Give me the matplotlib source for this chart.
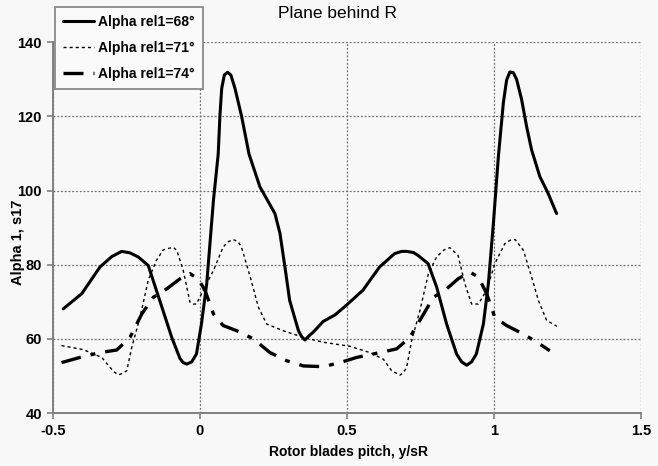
import matplotlib
matplotlib.use("Agg")
import matplotlib.pyplot as plt

# values
x68 = [-0.465, -0.402, -0.340, -0.300, -0.266, -0.238, -0.210, -0.176, -0.137, -0.096,
       -0.068, -0.057, -0.045, -0.028, -0.012, 0.005, 0.023, 0.046, 0.062, 0.068,
       0.074, 0.083, 0.094, 0.105, 0.119, 0.142, 0.167, 0.204, 0.255, 0.272, 0.289,
       0.305, 0.335, 0.346, 0.357, 0.368, 0.385, 0.397, 0.419, 0.460, 0.497, 0.554,
       0.611, 0.662, 0.686, 0.703, 0.726, 0.742, 0.776, 0.805, 0.839, 0.873, 0.890,
       0.907, 0.924, 0.940, 0.964, 0.981, 0.998, 1.015, 1.032, 1.043, 1.054, 1.066,
       1.077, 1.094, 1.111, 1.128, 1.156, 1.184, 1.213]
y68 = [68.1, 72.2, 79.4, 82.2, 83.6, 83.2, 82.1, 79.8, 70.4, 60.4,
       54.7, 53.6, 53.2, 53.8, 55.9, 64.0, 74.9, 97.5, 109.8, 120.4,
       127.6, 131.2, 131.9, 131.2, 127.6, 119.9, 109.8, 101.0, 93.8, 88.5, 79.4,
       70.4, 62.2, 60.6, 59.7, 60.6, 61.8, 62.8, 64.7, 66.5, 69.0, 73.1,
       79.4, 83.0, 83.6, 83.6, 83.3, 82.5, 80.3, 74.0, 64.0, 55.9, 53.8,
       52.9, 53.8, 55.9, 64.0, 74.9, 91.1, 109.2, 123.7, 129.8, 132.0, 131.8,
       130.0, 124.6, 117.3, 111.0, 103.8, 99.3, 93.8]

x71 = [-0.471, -0.397, -0.334, -0.306, -0.289, -0.277, -0.263, -0.249, -0.232, -0.204,
       -0.176, -0.148, -0.125, -0.102, -0.091, -0.079, -0.057, -0.034, -0.023, -0.012,
       0.011, 0.046, 0.079, 0.096, 0.113, 0.130, 0.141, 0.171, 0.199, 0.227, 0.283,
       0.352, 0.419, 0.510, 0.578, 0.624, 0.652, 0.669, 0.680, 0.692, 0.703, 0.720,
       0.748, 0.777, 0.805, 0.830, 0.850, 0.878, 0.901, 0.924, 0.947, 0.975,
       1.003, 1.037, 1.055, 1.072, 1.100, 1.128, 1.151, 1.179, 1.214]
y71 = [58.2, 57.1, 55.0, 52.3, 50.9, 50.3, 50.7, 51.4, 57.7, 65.8,
       75.8, 81.2, 84.0, 84.5, 84.7, 83.9, 78.5, 69.9, 69.4, 69.4,
       73.1, 78.5, 84.8, 86.2, 86.8, 86.2, 84.8, 76.7, 68.5, 64.0, 62.2,
       60.4, 59.1, 58.0, 56.3, 54.5, 51.4, 50.7, 50.2, 50.9, 52.3, 59.5,
       67.6, 77.6, 82.1, 84.0, 84.6, 82.5, 74.9, 69.4, 69.4, 73.1,
       80.3, 85.7, 86.6, 86.8, 83.9, 76.7, 70.4, 65.0, 63.4]

x74 = [-0.471, -0.408, -0.340, -0.283, -0.238, -0.198, -0.159, -0.113, -0.068, -0.034,
       -0.006, 0.017, 0.046, 0.079, 0.125, 0.182, 0.238, 0.295, 0.352, 0.419,
       0.477, 0.533, 0.612, 0.669, 0.714, 0.754, 0.794, 0.839, 0.878, 0.918,
       0.947, 0.975, 1.003, 1.043, 1.100, 1.156, 1.190]
y74 = [53.6, 55.0, 56.3, 57.0, 60.4, 66.7, 71.2, 73.5, 76.2, 77.6,
       76.2, 73.1, 66.7, 63.6, 62.2, 60.0, 56.3, 54.1, 52.7, 52.5,
       53.6, 55.0, 56.3, 57.3, 60.4, 65.8, 71.2, 73.5, 76.2, 78.0,
       76.7, 72.2, 65.8, 63.6, 61.3, 58.6, 56.8]

labels = ["Alpha rel1=68\u00b0", "Alpha rel1=71\u00b0", "Alpha rel1=74\u00b0"]
xticks = [-0.5, 0, 0.5, 1, 1.5]
xticklabels = ["-0.5", "0", "0.5", "1", "1.5"]
yticks = [40, 60, 80, 100, 120, 140]

plt.rcParams['font.family'] = ['Liberation Sans', 'DejaVu Sans']
plt.rcParams['font.weight'] = 'bold'

bg = '#f8f8f8'
fig = plt.figure(figsize=(6.58, 4.66), dpi=100)
fig.patch.set_facecolor(bg)
ax = fig.add_axes([0.0805, 0.1137, 0.8936, 0.7955])
ax.set_facecolor(bg)

common = dict(color='black', zorder=3, solid_joinstyle='round', dash_joinstyle='round',
              solid_capstyle='round')
ax.plot(x68, y68, lw=2.2, ls='-', label=labels[0], **common)
ax.plot(x71, y71, lw=1.0, ls=(0, (2.2, 2.2)), label=labels[1], **common)
ax.plot(x74, y74, lw=2.4, ls=(0, (6, 3, 1.5, 3)), label=labels[2], **common)

ax.set_xlim(-0.5, 1.5)
ax.set_ylim(40, 140)
ax.set_xticks(xticks)
ax.set_xticklabels(xticklabels)
ax.set_yticks(yticks)

ax.grid(True, color='#707070', ls=(0, (1.5, 1.5)), lw=0.9)
for s in ['top', 'right']:
    ax.spines[s].set_visible(False)
for s in ['left', 'bottom']:
    ax.spines[s].set_color('#808080')
    ax.spines[s].set_linewidth(1.4)

ax.tick_params(axis='both', labelsize=10.5, color='#808080', width=1.2, length=4,
               direction='out', pad=4)
for lab in ax.get_xticklabels() + ax.get_yticklabels():
    lab.set_fontweight('bold')

fig.text(337 / 658, 1 - 13 / 466, "Plane behind R", ha='center', va='center',
         fontsize=12.5, fontweight='normal')
fig.text(349 / 658, 1 - 452 / 466, "Rotor blades pitch, y/sR", ha='center', va='center',
         fontsize=10, fontweight='bold')
fig.text(18 / 658, 1 - 242 / 466, "Alpha 1, s17", ha='center', va='center',
         rotation=90, fontsize=10.5, fontweight='bold')

leg = fig.legend(loc='upper left', bbox_to_anchor=(55 / 658, 1 - 7 / 466),
                 frameon=True, fancybox=False, framealpha=1, edgecolor='#808080',
                 facecolor='#fafafa', fontsize=10, handlelength=2.2,
                 borderaxespad=0, labelspacing=0.85, handletextpad=0.3, borderpad=0.6)
leg.get_frame().set_linewidth(1.2)
for t in leg.get_texts():
    t.set_fontweight('bold')

fig.savefig('out.png', dpi=100, facecolor=bg)
